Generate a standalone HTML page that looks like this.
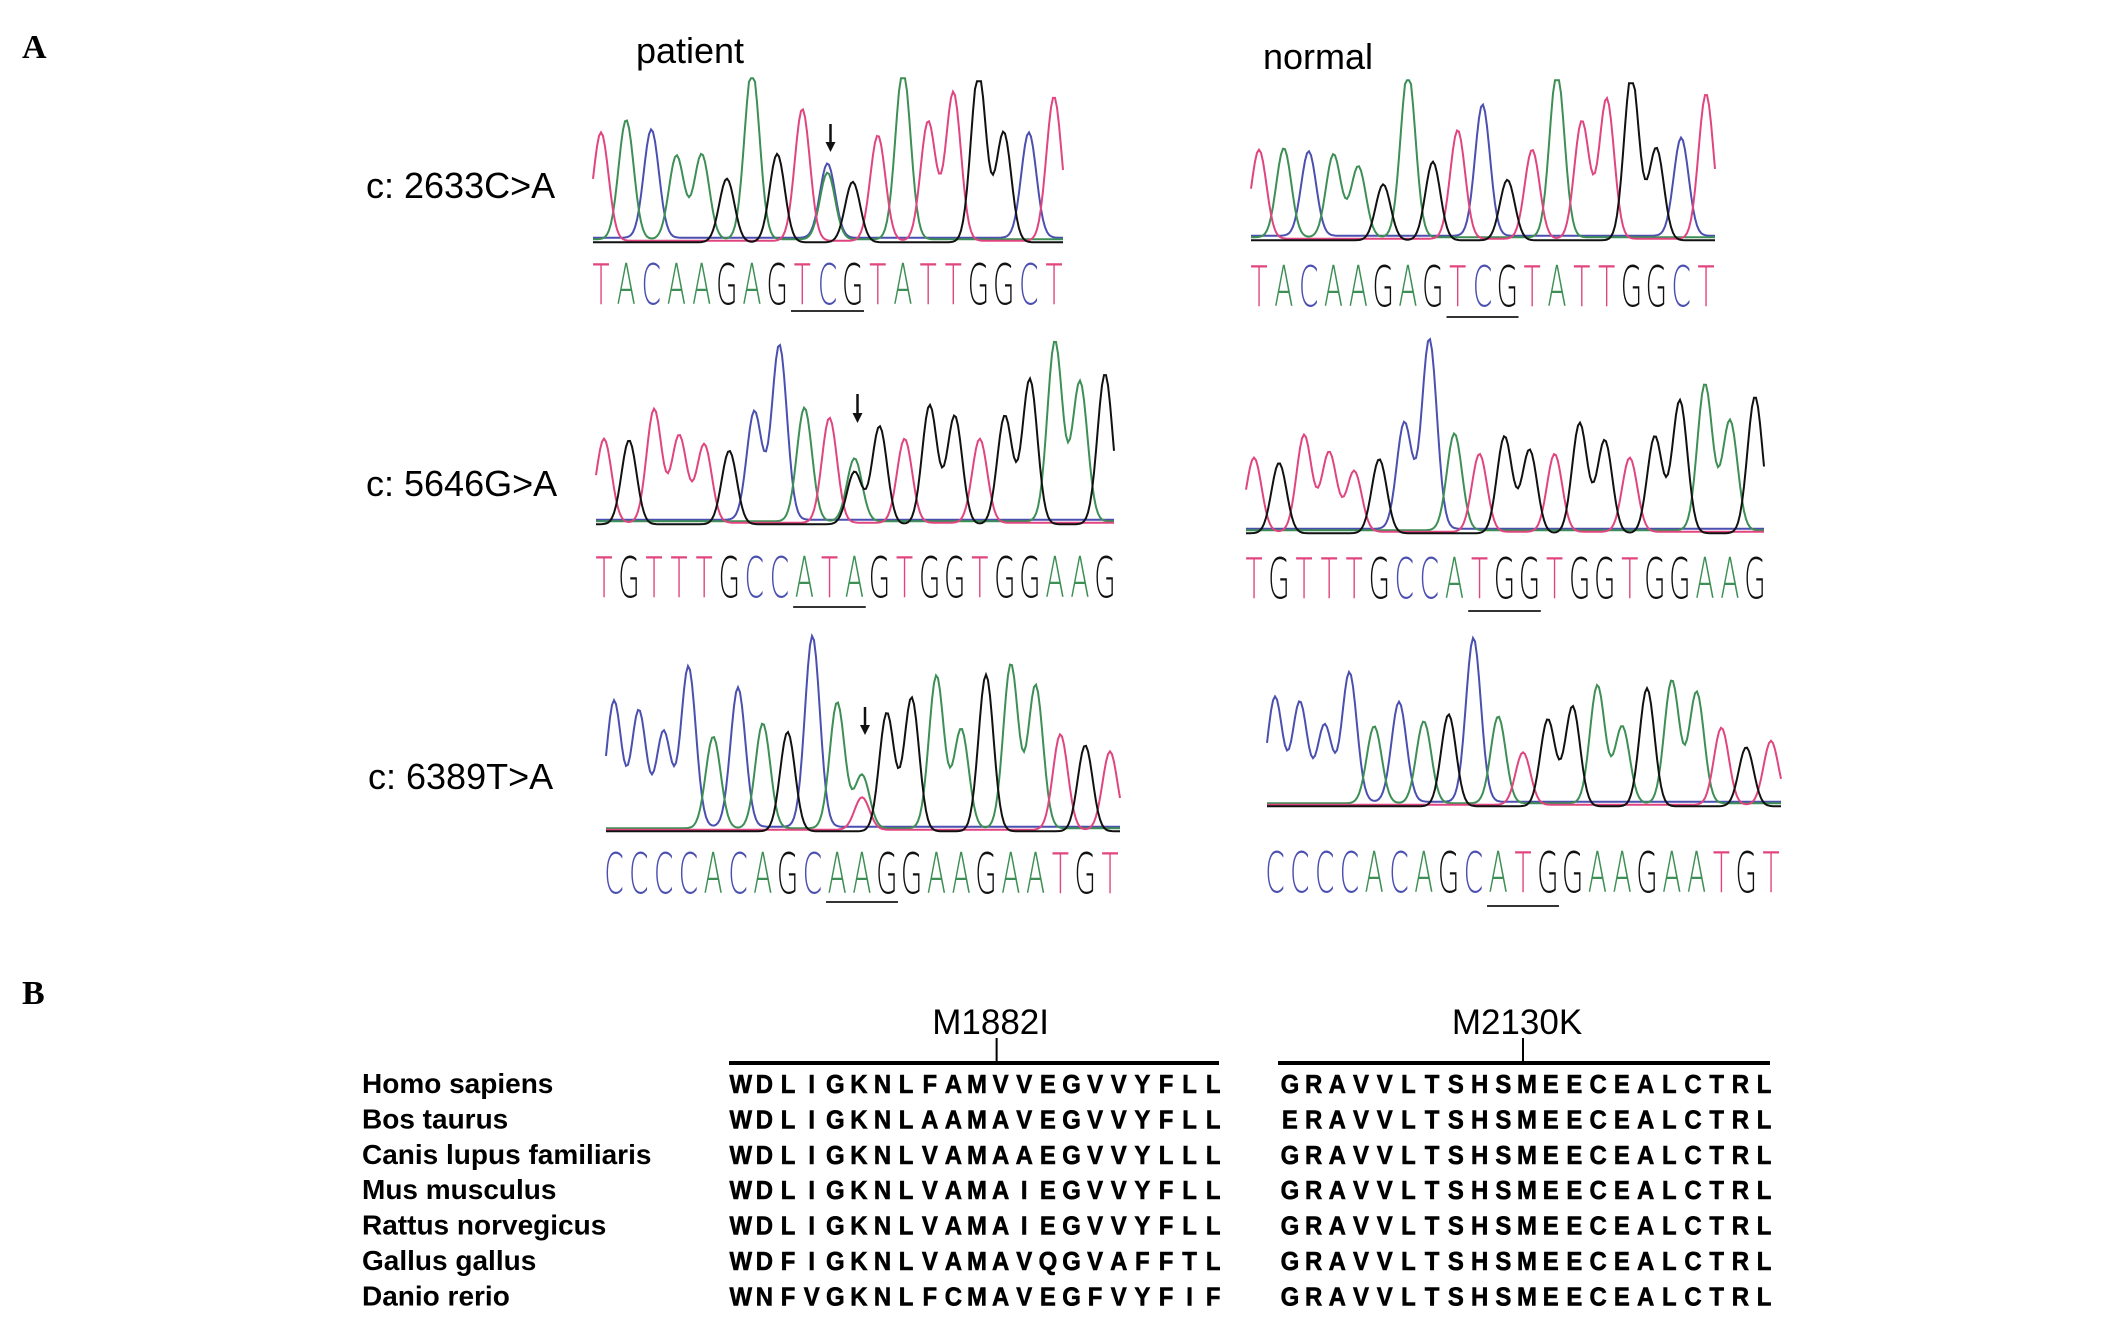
<!DOCTYPE html>
<html><head><meta charset="utf-8">
<style>
html,body{margin:0;padding:0;background:#fff;}
svg{display:block;}
</style></head>
<body>
<svg id="fig" width="2126" height="1320" viewBox="0 0 2126 1320" xmlns="http://www.w3.org/2000/svg">
  <text x="22" y="58" font-family="Liberation Serif, serif" font-weight="bold" font-size="34">A</text>
  <text x="22" y="1004" font-family="Liberation Serif, serif" font-weight="bold" font-size="34">B</text>
  <text x="690" y="63" text-anchor="middle" font-family="Liberation Sans, sans-serif" font-size="36">patient</text>
  <text x="1318" y="69" text-anchor="middle" font-family="Liberation Sans, sans-serif" font-size="36">normal</text>
  <text x="366" y="198" font-family="Liberation Sans, sans-serif" font-size="36">c: 2633C&gt;A</text>
  <text x="366" y="496" font-family="Liberation Sans, sans-serif" font-size="36">c: 5646G&gt;A</text>
  <text x="368" y="789" font-family="Liberation Sans, sans-serif" font-size="36">c: 6389T&gt;A</text>
  <g id="chroms"></g>
  <g id="align"></g>
</svg>
<script>
// ---- Chromatogram data ----
const seq1P = "TACAAGAGTCGTATTGGCT";
const h1P = [.7,.77,.7,.54,.55,.41,1.1,.57,.85,.48,.39,.68,1.1,.77,.96,1.1,.71,.68,.93];
const seq1N = "TACAAGAGTCGTATTGGCT";
const h1N = [.59,.59,.56,.55,.47,.37,1.1,.52,.72,.87,.4,.59,1.1,.78,.93,1.1,.61,.65,.96];
const seq2P = "TGTTTGCCATAGTGGTGGAAG";
const h2P = [.48,.48,.65,.5,.45,.42,.62,1.0,.65,.6,.36,.56,.48,.68,.62,.48,.62,.83,1.03,.8,.86];
const seq2N = "TGTTTGCCATGGTGGTGGAAG";
const h2N = [.39,.37,.51,.42,.32,.39,.56,1.0,.51,.41,.51,.44,.41,.58,.49,.39,.51,.7,.77,.58,.72];
const seq3P = "CCCCACAGCAAGGAAGAATGT";
const h3P = [.66,.61,.5,.84,.48,.73,.55,.52,1.0,.66,.28,.62,.7,.8,.52,.82,.86,.75,.5,.45,.41];
const seq3N = "CCCCACAGCATGGAAGAATGT";
const h3N = [.64,.61,.47,.79,.47,.61,.5,.56,1.0,.53,.32,.53,.61,.72,.47,.72,.75,.68,.47,.36,.39];
// secondary (heterozygous) peaks: [index, base, height]
const sec1P = [9,"A",.43];
const sec2P = [10,"G",.3];
const sec3P = [10,"T",.17];

const colors = {T:"#e0457f",A:"#3d8f55",C:"#4a4fb0",G:"#111111"};
const panels = [
 {name:"patient-2633",seq:seq1P,h:h1P,sec:sec1P,x0:601,x1:1054,base:240,top:85,ly:304,ul:[8,10],uy:311,arrow:9,ay:[124,152]},
 {name:"normal-2633",seq:seq1N,h:h1N,sec:null,x0:1259,x1:1706,base:238,top:87,ly:306,ul:[8,10],uy:317},
 {name:"patient-5646",seq:seq2P,h:h2P,sec:sec2P,x0:604,x1:1105,base:522,top:347,ly:597,ul:[8,10],uy:607,arrow:10,ay:[394,423]},
 {name:"normal-5646",seq:seq2N,h:h2N,sec:null,x0:1254,x1:1755,base:531,top:341,ly:598,ul:[9,11],uy:611},
 {name:"patient-6389",seq:seq3P,h:h3P,sec:sec3P,x0:614,x1:1110,base:829,top:638,ly:893,ul:[9,11],uy:902,arrow:10,ay:[707,735]},
 {name:"normal-6389",seq:seq3N,h:h3N,sec:null,x0:1275,x1:1771,base:804,top:640,ly:892,ul:[9,11],uy:906}
];
const NS="http://www.w3.org/2000/svg";
const chroms=document.getElementById('chroms');
function mk(tag,attrs,parent){const e=document.createElementNS(NS,tag);for(const k in attrs)e.setAttribute(k,attrs[k]);parent.appendChild(e);return e;}
panels.forEach(p=>{
  const g=mk('g',{},chroms);
  
  
  const n=p.seq.length, sp=(p.x1-p.x0)/(n-1);
  const xOf=i=>p.x0+i*sp;
  const yOf=v=>p.base-v*(p.base-p.top);
  const sig=sp*0.3;
  ["C","A","T","G"].forEach((b,bi)=>{
    let pk=[];
    for(let i=0;i<n;i++) if(p.seq[i]===b) pk.push([xOf(i),p.h[i]]);
    if(p.sec && p.sec[1]===b) pk.push([xOf(p.sec[0]),p.sec[2]]);
    let d="";
    for(let x=p.x0-8;x<=p.x1+10;x+=2){
      let v=0; pk.forEach(q=>{v+=q[1]*Math.exp(-Math.pow(x-q[0],2)/(2*sig*sig));});
      const y=Math.max(yOf(v),p.top-6)+(bi-1.5)*1.5;
      d+=(d?"L":"M")+x.toFixed(1)+","+y.toFixed(1);
    }
    const path=mk('path',{d:d,fill:"none",stroke:colors[b],"stroke-width":2},g);
    
    
  });
  for(let i=0;i<n;i++){
    const t=mk('text',{transform:`translate(${xOf(i).toFixed(1)},${p.ly}) scale(0.5,1)`,"text-anchor":"middle",fill:colors[p.seq[i]],"font-family":"DejaVu Sans ExtraLight, DejaVu Sans, Liberation Sans, sans-serif","font-weight":"200","font-size":56},g);
    t.textContent=p.seq[i];
    
    
  }
  const ul=mk('line',{x1:xOf(p.ul[0])-sp*0.45,x2:xOf(p.ul[1])+sp*0.45,y1:p.uy,y2:p.uy,stroke:"#333","stroke-width":2},g);
  
  
  if(p.arrow!==undefined){
    const ax=xOf(p.arrow)+3;
    const ar=mk('g',{},g);
    
    
    mk('line',{x1:ax,x2:ax,y1:p.ay[0],y2:p.ay[1]-4,stroke:"#111","stroke-width":2.5},ar);
    mk('path',{d:`M${ax-5},${p.ay[1]-10}L${ax+5},${p.ay[1]-10}L${ax},${p.ay[1]}Z`,fill:"#111"},ar);
  }
});

// ---- Alignment data ----
const species = ["Homo sapiens","Bos taurus","Canis lupus familiaris","Mus musculus","Rattus norvegicus","Gallus gallus","Danio rerio"];
const region1 = ["WDLIGKNLFAMVVEGVVYFLL","WDLIGKNLAAMAVEGVVYFLL","WDLIGKNLVAMAAEGVVYLLL","WDLIGKNLVAMAIEGVVYFLL","WDLIGKNLVAMAIEGVVYFLL","WDFIGKNLVAMAVQGVAFFTL","WNFVGKNLFCMAVEGFVYFIF"];
const region2 = ["GRAVVLTSHSMEECEALCTRL","ERAVVLTSHSMEECEALCTRL","GRAVVLTSHSMEECEALCTRL","GRAVVLTSHSMEECEALCTRL","GRAVVLTSHSMEECEALCTRL","GRAVVLTSHSMEECEALCTRL","GRAVVLTSHSMEECEALCTRL"];
const mutLabels = ["M1882I","M2130K"];
const align=document.getElementById('align');
const rowY=i=>1093+i*35.4;
species.forEach((s,i)=>{
  const t=mk('text',{x:362,y:rowY(i),"font-family":"Liberation Sans, sans-serif","font-weight":"bold","font-size":28},align);
  t.textContent=s;
  
  
});
const blocks=[{x0:729,x1:1225,data:region1,tick:11},{x0:1278,x1:1776,data:region2,tick:10}];
blocks.forEach((b,bi)=>{
  const g=mk('g',{},align);
  
  
  const n=b.data[0].length, sp=(b.x1-b.x0)/n;
  const cx=i=>b.x0+sp*(i+0.5);
  const bar=mk('line',{x1:b.x0,x2:b.x1-6,y1:1063,y2:1063,stroke:"#000","stroke-width":4},g);
  
  
  const tk=mk('line',{x1:cx(b.tick)-4,x2:cx(b.tick)-4,y1:1038,y2:1063,stroke:"#000","stroke-width":2},g);
  
  
  const lab=mk('text',{x:cx(b.tick)-10,y:1034,"text-anchor":"middle","font-family":"Liberation Sans, sans-serif","font-size":35},g);
  lab.textContent=mutLabels[bi];
  
  
  b.data.forEach((row,ri)=>{
    for(let i=0;i<row.length;i++){
      const t=mk('text',{transform:`translate(${cx(i).toFixed(1)},${rowY(ri).toFixed(1)}) scale(0.92,1)`,"text-anchor":"middle","font-family":"Liberation Sans, sans-serif","font-weight":"bold","font-size":26,stroke:"#000","stroke-width":0.6},g);
      t.textContent=row[i];
      
      
    }
  });
});
</script>
</body></html>
